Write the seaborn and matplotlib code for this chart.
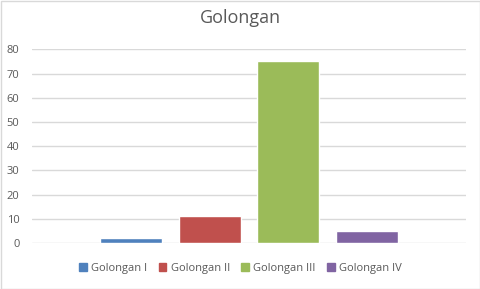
import matplotlib
matplotlib.use("Agg")
import matplotlib.pyplot as plt
import seaborn as sns
import pandas as pd
from matplotlib.patches import Rectangle

categories = ["Golongan I", "Golongan II", "Golongan III", "Golongan IV"]
values = [2, 11, 75, 5]
colors = ["#4F81BD", "#C0504D", "#9BBB59", "#8064A2"]
yticks = [0, 10, 20, 30, 40, 50, 60, 70, 80]
title = "Golongan"

sns.set_theme(style="white")
plt.rcParams["font.family"] = ["Open Sans", "DejaVu Sans"]

df = pd.DataFrame({"Golongan": categories, "Jumlah": values})

fig = plt.figure(figsize=(4.81, 2.89), dpi=100)
ax = fig.add_axes([32/481, 1-243/289, (466-32)/481, (243-49.3)/289])

sns.barplot(data=df, x="Golongan", y="Jumlah", hue="Golongan",
            palette=colors, width=0.79, ax=ax, legend=False, saturation=1)

ax.set_xlim(-1.26, 3.26 + 1.0)
ax.set_ylim(0, 80)
ax.set_yticks(yticks)
ax.set_yticklabels([str(t) for t in yticks], color="#595959", fontsize=8)
ax.set_xticks([])
ax.set_xlabel("")
ax.set_ylabel("")
ax.yaxis.grid(True, color="#d9d9d9", linewidth=1)
ax.set_axisbelow(True)
for s in ax.spines.values():
    s.set_visible(False)
ax.tick_params(axis="y", length=0, pad=9)

fig.text(0.5, 1-18/289, title, ha="center", va="center", fontsize=13, color="#595959")

handles = [Rectangle((0, 0), 1, 1, color=c) for c in colors]
fig.legend(handles, categories, loc="center", bbox_to_anchor=(0.5, 1-268/289),
           ncol=4, frameon=False, fontsize=8, handlelength=0.7, handleheight=0.7,
           handletextpad=0.4, columnspacing=1.0, labelcolor="#595959")

fig.patches.append(Rectangle((0.5/481, 0.5/289), 1-1/481, 1-1/289, transform=fig.transFigure,
                             fill=False, edgecolor="#d9d9d9", linewidth=1))

fig.savefig("out.png", dpi=100, facecolor="white")
